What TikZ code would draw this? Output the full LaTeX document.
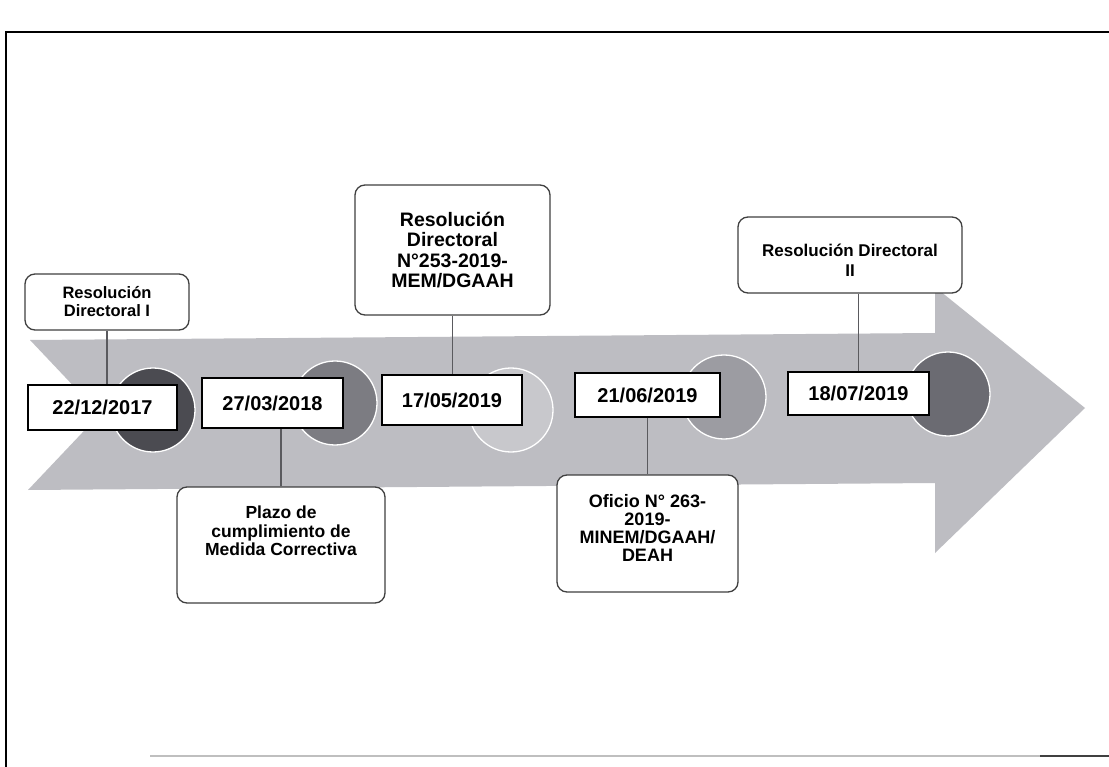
\documentclass[tikz,border=0pt]{standalone}
\usepackage{fontspec}
\setmainfont{Liberation Sans}
\definecolor{band}{HTML}{BDBDC2}
\definecolor{cA}{HTML}{4B4B51}
\definecolor{cB}{HTML}{7C7C82}
\definecolor{cC}{HTML}{C8C8CC}
\definecolor{cD}{HTML}{9C9CA2}
\definecolor{cE}{HTML}{6B6B72}
\definecolor{boxgray}{HTML}{404040}
\definecolor{linegray}{HTML}{5A5A5E}
\begin{document}
\begin{tikzpicture}[x=1pt,y=-1pt,
  datebox/.style={draw=black, line width=1.2pt, fill=white, inner sep=0pt,
    font=\bfseries\fontsize{20}{22}\selectfont},
  rbox/.style={draw=boxgray, line width=1.3pt, fill=white, rounded corners=10pt,
    inner sep=0pt, align=center},
  btext/.style={inner sep=0pt, align=center},
  conn/.style={draw=linegray, line width=1.6pt},
  dot/.style={circle, draw=white, line width=1.3pt, inner sep=0pt, minimum size=84pt}]
\fill[white] (0,0) rectangle (1109,767);
\useasboundingbox (0,0) rectangle (1109,767);
% frame
\draw[line width=1.8pt] (6,767) -- (6,32) -- (1109,32);
\draw[line width=1.2pt, black!25] (150,756) -- (1040,756);
\draw[line width=1.6pt, black!75] (1040,756) -- (1109,756);
% arrow band
\fill[band] (30,340) -- (935,333) -- (935,287) -- (1085,408) -- (935,553)
  -- (935,483) -- (28,490) -- (100,414) -- cycle;
% circles
\node[dot, fill=cA] (c1) at (153,410) {};
\node[dot, fill=cB] (c2) at (335,403) {};
\node[dot, fill=cC] (c3) at (511,410) {};
\node[dot, fill=cD] (c4) at (724,397) {};
\node[dot, fill=cE] (c5) at (948,394) {};
% date boxes
\node[datebox, minimum width=149pt, minimum height=45pt] (d1) at (102.5,407.5) {22/12/2017};
\node[datebox, minimum width=141pt, minimum height=50pt] (d2) at (272.5,403) {27/03/2018};
\node[datebox, minimum width=140pt, minimum height=50pt] (d3) at (452,400) {17/05/2019};
\node[datebox, minimum width=145pt, minimum height=44pt] (d4) at (647.5,395) {21/06/2019};
\node[datebox, minimum width=141pt, minimum height=43pt] (d5) at (858.5,393.5) {18/07/2019};
% description boxes
\node[rbox, minimum width=164pt, minimum height=56pt,
  font=\bfseries\fontsize{16.5}{18}\selectfont] (rd1) at (107,302)
  {Resolución\\Directoral I};
\node[rbox, minimum width=195pt, minimum height=130pt,
  font=\bfseries\fontsize{19.5}{20.5}\selectfont] (rd253) at (452.5,250)
  {Resolución\\Directoral\\N°253-2019-\\MEM/DGAAH};
\node[rbox, minimum width=224pt, minimum height=76pt] (rd2) at (850,255) {};
\node[btext, font=\bfseries\fontsize{17}{20}\selectfont] (rd2t) at (850,260)
  {Resolución Directoral\\II};
\node[rbox, minimum width=208pt, minimum height=116pt] (plazo) at (281,545) {};
\node[btext, font=\bfseries\fontsize{17.5}{18.3}\selectfont] (plazot) at (281,531)
  {Plazo de\\cumplimiento de\\Medida Correctiva};
\node[rbox, minimum width=181pt, minimum height=117pt,
  font=\bfseries\fontsize{18}{18.3}\selectfont] (oficio) at (647.5,533.5) {};
\node[btext, font=\bfseries\fontsize{18}{18.3}\selectfont] (oficiot) at (647.5,528)
  {Oficio N° 263-\\2019-\\MINEM/DGAAH/\\DEAH};
% connectors
\draw[conn] (rd1.south) -- (rd1.south |- d1.north);
\draw[conn] (plazo.north) -- (plazo.north |- d2.south);
\draw[conn] (rd253.south) -- (rd253.south |- d3.north);
\draw[conn] (d4.south) -- (d4.south |- oficio.north);
\draw[conn] (d5.north) -- (d5.north |- rd2.south);
\end{tikzpicture}
\end{document}
